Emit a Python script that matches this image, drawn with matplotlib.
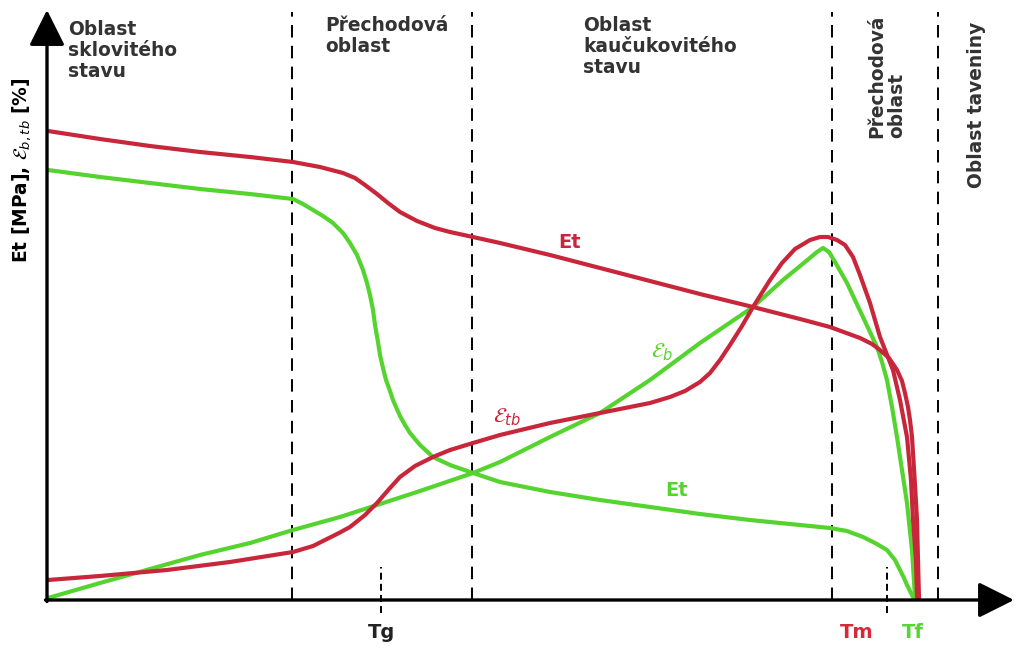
import matplotlib
matplotlib.use("Agg")
import matplotlib.pyplot as plt

# ---- data (schematic; x = temperature, y = value) ----
et_red_T = [1, 53, 103, 153, 203, 246, 273, 296, 308, 318, 330, 341, 353, 370, 388, 403, 426, 453,
            503, 553, 603, 653, 706, 753, 783, 813, 825, 833, 842, 850, 855, 858, 861, 863, 865,
            866, 868, 870, 871, 872]
et_red_V = [469, 461, 454, 448, 443, 438, 433, 427, 422, 415, 406, 397, 388, 379, 372, 368, 363, 357,
            345, 332, 319, 306, 293, 281, 273, 262, 256, 250, 242, 230, 219, 207, 193, 180, 163,
            147, 115, 80, 40, 2]

et_green_T = [1, 53, 103, 153, 203, 246, 256, 266, 276, 286, 296, 303, 310, 316, 320, 323, 326, 328,
              331, 333, 336, 339, 343, 346, 353, 358, 363, 373, 386, 403, 426, 453, 503, 553, 603,
              653, 703, 733, 783, 800, 816, 828, 840, 848, 853, 857, 860, 863, 866]
et_green_V = [430, 423, 417, 411, 406, 401, 396, 390, 384, 377, 367, 357, 345, 330, 317, 305, 290, 275,
              258, 245, 232, 220, 209, 200, 184, 175, 167, 155, 143, 135, 127, 118, 108, 100, 93,
              86, 80, 77, 72, 69, 63, 57, 50, 40, 30, 22, 15, 9, 3]

eb_T = [1, 53, 103, 153, 203, 246, 293, 330, 373, 426, 453, 503, 553, 603, 653, 706, 736, 758, 770,
        776, 782, 788, 800, 815, 830, 835, 840, 845, 850, 855, 860, 865, 868]
eb_V = [2, 17, 31, 45, 57, 70, 83, 95, 109, 127, 138, 163, 187, 220, 257, 293, 320, 338, 348,
        352, 348, 338, 317, 285, 253, 238, 220, 193, 163, 130, 97, 50, 3]

etb_T = [1, 53, 120, 183, 246, 256, 266, 280, 292, 303, 318, 330, 343, 353, 368, 386, 403, 426, 453,
         503, 553, 578, 603, 623, 638, 653, 663, 673, 683, 695, 706, 723, 735, 748, 763, 773, 781,
         790, 798, 806, 813, 823, 833, 846, 853, 860, 864, 866, 869, 870]
etb_V = [20, 24, 30, 38, 48, 51, 54, 61, 67, 73, 85, 97, 112, 123, 134, 143, 150, 157, 165,
         177, 187, 192, 197, 203, 209, 218, 227, 240, 255, 274, 293, 320, 337, 351, 360, 363, 363,
         360, 355, 343, 325, 297, 263, 230, 200, 163, 120, 80, 40, 3]

region_bounds = [245, 425, 785, 891]
Tg, Tm, Tf = 334, 840, 867

RED = "#c8263a"
GREEN = "#55d42f"
TXT = "#333333"

plt.rcParams["font.family"] = ["DejaVu Sans"]
plt.rcParams["lines.scale_dashes"] = False

fig = plt.figure(figsize=(10.16, 6.5), dpi=100)
ax = fig.add_axes([0, 0, 1, 1])
ax.set_xlim(-47, 969)
ax.set_ylim(-50, 600)
ax.axis("off")

# region separators
for xb in region_bounds:
    ax.plot([xb, xb], [0, 588], color="black", lw=1.4, dashes=(9, 6), zorder=1)

# Tg / Tm markers
for xm in [Tg, Tm]:
    ax.plot([xm, xm], [-13, 33], color="black", lw=1.4, dashes=(5, 3), zorder=1)

# curves
kw = dict(lw=3.0, solid_joinstyle="round", solid_capstyle="round", zorder=3)
ax.plot(et_green_T, et_green_V, color=GREEN, **kw)
ax.plot(eb_T, eb_V, color=GREEN, **kw)
ax.plot(et_red_T, et_red_V, color=RED, **kw)
ax.plot(etb_T, etb_V, color=RED, **kw)

# axes with arrows
arrow = dict(arrowstyle="-|>,head_length=1.1,head_width=0.55", mutation_scale=20,
             lw=2.4, color="black", shrinkA=0, shrinkB=0)
ax.annotate("", xy=(0, 590), xytext=(0, -1.5), arrowprops=arrow, zorder=5)
ax.annotate("", xy=(967, 0), xytext=(-1.5, 0), arrowprops=arrow, zorder=5)

# region texts
rt = dict(fontsize=13.4, fontweight="bold", color=TXT, va="top", ha="left", linespacing=1.12)
ax.text(21, 580, "Oblast\nsklovitého\nstavu", **rt)
ax.text(278, 584, "Přechodová\noblast", **rt)
ax.text(536, 584, "Oblast\nkaučukovitého\nstavu", **rt)
ax.text(840, 462, "Přechodová\noblast", fontsize=13.4, fontweight="bold", color=TXT,
        rotation=90, ha="center", va="bottom", multialignment="left", linespacing=1.05)
ax.text(930, 412, "Oblast taveniny", fontsize=13.4, fontweight="bold", color=TXT,
        rotation=90, ha="center", va="bottom")

# axis label
ax.text(-25, 430, r"Et [MPa], $\mathcal{E}_{b,tb}$ [%]", fontsize=13.4, fontweight="bold",
        color="black", rotation=90, ha="center", va="center")

# temperature labels
ax.text(Tg, -33, "Tg", fontsize=14, fontweight="bold", color="#222222", ha="center", va="center")
ax.text(810, -33, "Tm", fontsize=14, fontweight="bold", color="#d42a3c", ha="center", va="center")
ax.text(866, -33, "Tf", fontsize=14, fontweight="bold", color="#5ad23a", ha="center", va="center")

# curve labels
ax.text(523, 358, "Et", fontsize=14, fontweight="bold", color=RED, ha="center", va="center")
ax.text(630, 110, "Et", fontsize=14, fontweight="bold", color=GREEN, ha="center", va="center")
ax.text(460, 183, r"$\mathcal{E}_{tb}$", fontsize=15, color=RED, ha="center", va="center")
ax.text(615, 248, r"$\mathcal{E}_{b}$", fontsize=15, color=GREEN, ha="center", va="center")

fig.savefig("out.png", dpi=100)
